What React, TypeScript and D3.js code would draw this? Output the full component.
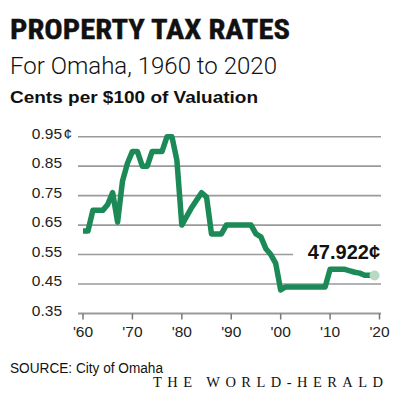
import React from "react";
import * as d3 from "d3";

const years = d3.range(1960, 2020);
const rates = [
  0.63, 0.63, 0.70, 0.70, 0.70, 0.72, 0.76, 0.66, 0.80, 0.86,
  0.90, 0.90, 0.85, 0.85, 0.90, 0.90, 0.90, 0.95, 0.95, 0.87,
  0.65, 0.68, 0.71, 0.735, 0.76, 0.745, 0.62, 0.62, 0.62, 0.65,
  0.65, 0.65, 0.65, 0.65, 0.65, 0.62, 0.61, 0.57, 0.55, 0.52,
  0.43, 0.44, 0.44, 0.44, 0.44, 0.44, 0.44, 0.44, 0.44, 0.44,
  0.50, 0.50, 0.50, 0.50, 0.495, 0.49, 0.487, 0.48, 0.48, 0.479,
];
const yTicks = [0.35, 0.45, 0.55, 0.65, 0.75, 0.85, 0.95];
const xTicks = [1960, 1970, 1980, 1990, 2000, 2010, 2020];
const endLabel = "47.922¢";

export default function App() {
  const x = d3.scaleLinear().domain([1960, 2020]).range([83, 379.5]);
  const y = d3.scaleLinear().domain([0.35, 0.95]).range([313.5, 136.7]);
  const data = years.map((yr, i) => ({ yr, v: rates[i] }));
  const line = d3
    .line<{ yr: number; v: number }>()
    .x((d) => x(d.yr))
    .y((d) => y(d.v));
  const last = data[data.length - 1];
  const gx0 = 78;
  const gx1 = 381;
  const sans = "'Liberation Sans', Arial, sans-serif";

  return (
    <svg
      width={393}
      height={403}
      style={{ position: "absolute", left: 0, top: 0, background: "#fff" }}
    >
      <text
        x={10}
        y={39}
        fontFamily="'Liberation Sans Narrow', 'Roboto Condensed', 'Liberation Sans', sans-serif"
        fontWeight="bold"
        fontSize={28.5}
        textLength={280}
        lengthAdjust="spacingAndGlyphs"
        fill="#111"
        stroke="#111"
        strokeWidth={0.4}
      >
        PROPERTY TAX RATES
      </text>
      <text
        x={10}
        y={74}
        fontFamily="Roboto, sans-serif"
        fontWeight={300}
        fontSize={23}
        textLength={267}
        lengthAdjust="spacingAndGlyphs"
        fill="#111"
      >
        For Omaha, 1960 to 2020
      </text>
      <text
        x={10}
        y={103}
        fontFamily={sans}
        fontWeight="bold"
        fontSize={17}
        textLength={248}
        lengthAdjust="spacingAndGlyphs"
        fill="#111"
      >
        Cents per $100 of Valuation
      </text>

      {yTicks.slice(1).map((t) => (
        <line
          key={t}
          x1={gx0}
          x2={t === 0.55 ? 293 : gx1}
          y1={y(t)}
          y2={y(t)}
          stroke="#9a9a9a"
          strokeWidth={1.6}
        />
      ))}
      <line x1={gx0} x2={gx1} y1={y(0.35)} y2={y(0.35)} stroke="#9a9a9a" strokeWidth={2} />
      {xTicks.map((t) => (
        <g key={t}>
          <line x1={x(t)} x2={x(t)} y1={y(0.35)} y2={y(0.35) + 6} stroke="#777" strokeWidth={1.5} />
          <text
            x={x(t)}
            y={337}
            textAnchor="middle"
            fontFamily={sans}
            fontSize={15.5}
            fill="#222"
          >
            {"'" + String(t).slice(2)}
          </text>
        </g>
      ))}
      {yTicks.map((t) => (
        <text
          key={t}
          x={62}
          y={y(t) + 2}
          textAnchor="end"
          fontFamily={sans}
          fontSize={15.5}
          fill="#222"
        >
          {t.toFixed(2)}
          {t === 0.95 ? <tspan x={63.5} textAnchor="start">¢</tspan> : null}
        </text>
      ))}

      <path
        d={line(data) || ""}
        fill="none"
        stroke="#1b8a56"
        strokeWidth={5.5}
        strokeLinejoin="round"
        strokeLinecap="butt"
      />
      <circle cx={x(last.yr)} cy={y(last.v)} r={5} fill="#b9d9c5" />
      <text
        x={380}
        y={259}
        textAnchor="end"
        fontFamily={sans}
        fontWeight="bold"
        fontSize={20}
        fill="#111"
      >
        {endLabel}
      </text>

      <text x={10} y={373} fontFamily={sans} fontSize={14} textLength={153} lengthAdjust="spacingAndGlyphs" fill="#111">
        SOURCE: City of Omaha
      </text>
      <text
        x={153}
        y={387}
        fontFamily="'Liberation Serif', 'DejaVu Serif', serif"
        fontSize={14.5}
        textLength={230}
        lengthAdjust="spacing"
        fill="#111"
      >
        THE WORLD-HERALD
      </text>
    </svg>
  );
}
